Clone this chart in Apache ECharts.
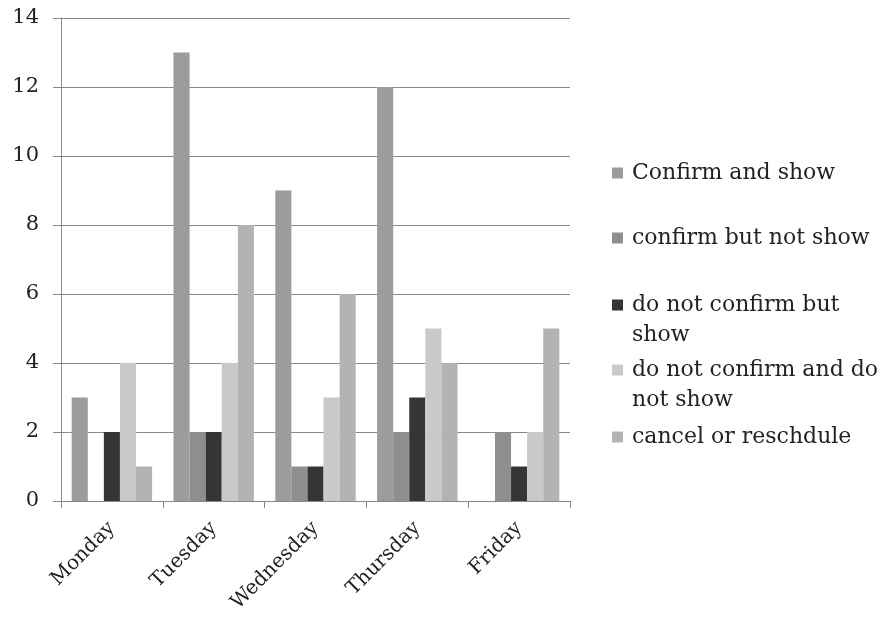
<!DOCTYPE html>
<html><head><meta charset="utf-8">
<script src="https://cdn.jsdelivr.net/npm/echarts@6/dist/echarts.min.js"></script>
<style>html,body{margin:0;padding:0;background:#fff}#c{width:881px;height:622px}</style>
</head><body><div id="c"></div>
<script>
const days = ["Monday","Tuesday","Wednesday","Thursday","Friday"];
const seriesNames = ["Confirm and show","confirm but not show","do not confirm but show","do not confirm and do not show","cancel or reschdule"];
const confirmAndShow = [3,13,9,12,0];
const confirmNotShow = [0,2,1,2,2];
const notConfirmShow = [2,2,1,3,1];
const notConfirmNotShow = [4,4,3,5,2];
const cancelReschedule = [1,8,6,4,5];
const yTicks = [0,2,4,6,8,10,12,14];

const values = [confirmAndShow, confirmNotShow, notConfirmShow, notConfirmNotShow, cancelReschedule];
const colors = ["#9c9c9c","#8e8e8e","#353535","#c9c9c9","#b3b3b3"];
const font = "DejaVu Serif";
const legendLines = [["Confirm and show"],["confirm but not show"],["do not confirm but","show"],["do not confirm and do","not show"],["cancel or reschdule"]];
const legendCenters = [173,238,305,370,437];
const lineH = 30;

const chart = echarts.init(document.getElementById('c'));
const legends = seriesNames.map((n,i)=>({
  data:[n], left:612, top:legendCenters[i]-lineH/2, orient:'vertical', padding:0,
  itemWidth:11, itemHeight:11, itemGap:0, icon:'rect',
  formatter:()=>legendLines[i][0],
  textStyle:{fontFamily:font,fontSize:22,color:'#222',padding:[0,0,0,4],lineHeight:lineH},
  selectedMode:false
}));
const graphics = [];
legendLines.forEach((l,i)=>{ if(l.length>1){ graphics.push({type:'text',left:632,top:legendCenters[i]+lineH-11,style:{text:l[1],font:'22px "DejaVu Serif"',fill:'#222'}}); }});

chart.setOption({
  animation:false,
  grid:{left:61,right:311,top:18,bottom:121},
  legend:legends,
  graphic:graphics,
  xAxis:{type:'category',data:days,
    axisLine:{lineStyle:{color:'#888',width:1}},
    axisTick:{show:true,length:7,lineStyle:{color:'#888'}},
    axisLabel:{rotate:45,fontFamily:font,fontSize:20,color:'#222',margin:24}},
  yAxis:{type:'value',min:0,max:14,interval:2,
    axisLine:{show:true,lineStyle:{color:'#888'}},
    axisTick:{show:true,length:8,lineStyle:{color:'#888'}},
    splitLine:{lineStyle:{color:'#8a8a8a',width:1}},
    axisLabel:{fontFamily:font,fontSize:21,color:'#222',margin:22,
      formatter:v=>yTicks.includes(v)?String(v):''}},
  series:seriesNames.map((n,i)=>({name:n,type:'bar',data:values[i],barGap:'0%',barCategoryGap:'21%',
    itemStyle:{color:colors[i]}}))
});
</script></body></html>
